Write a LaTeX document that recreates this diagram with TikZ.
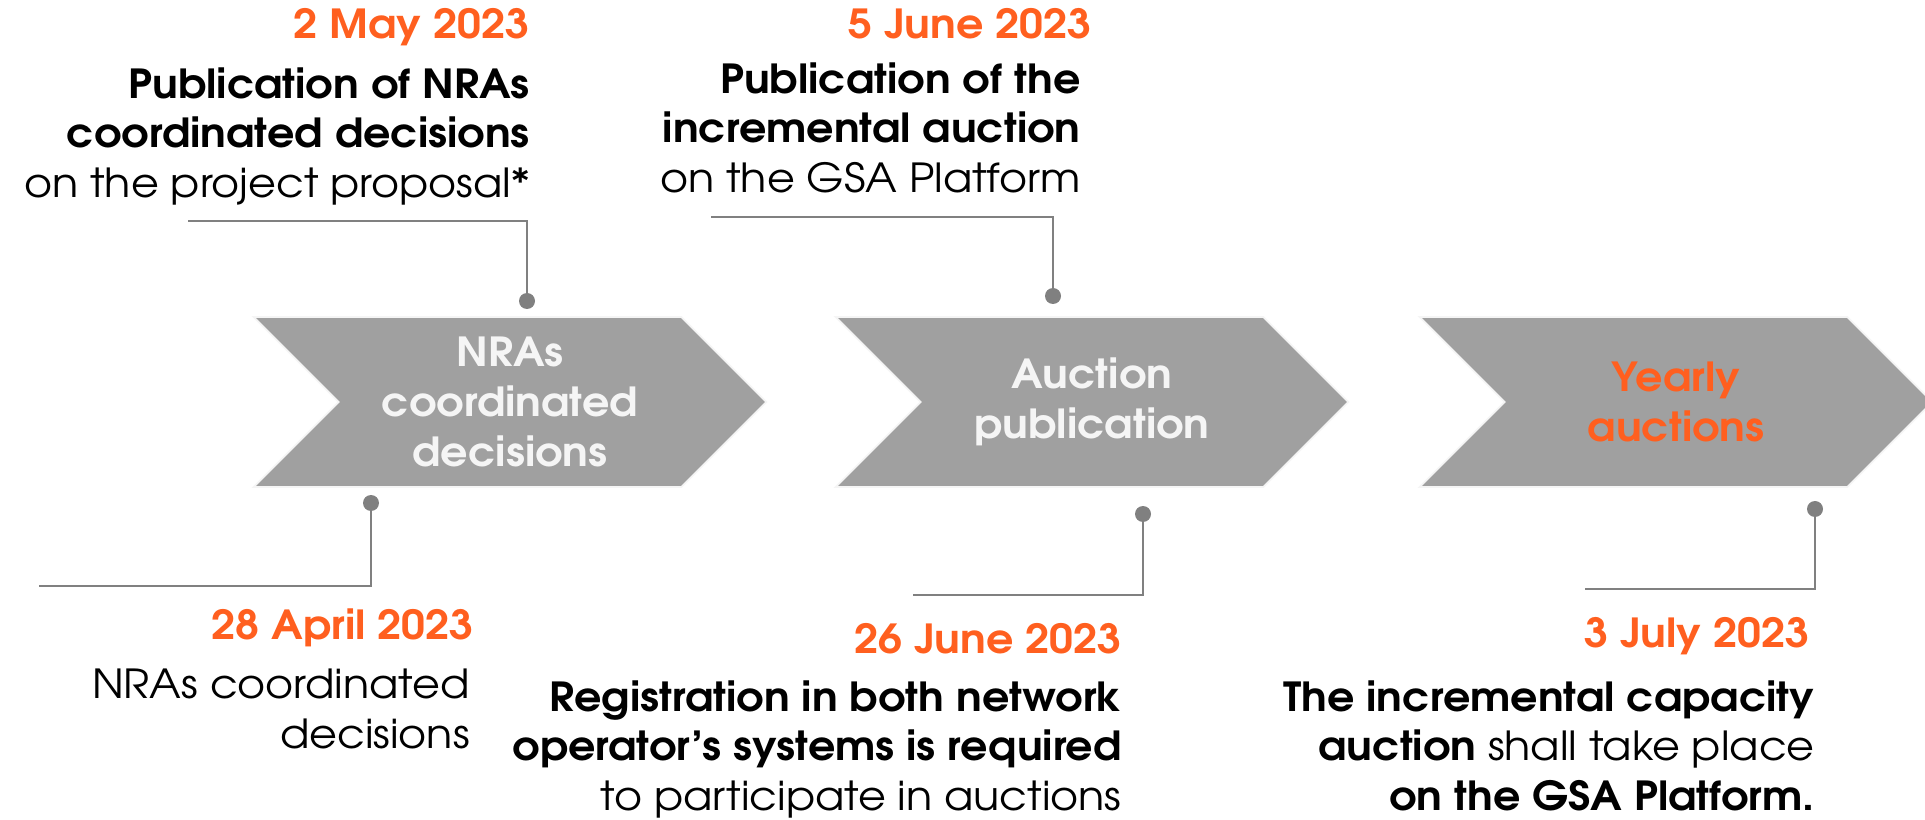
\documentclass[tikz,border=0pt]{standalone}
\usepackage{fontspec}
\setmainfont{texgyreadventor}[Extension=.otf,UprightFont=*-regular,BoldFont=*-bold,FakeStretch=1.07]
\usetikzlibrary{shapes.symbols,positioning}
\definecolor{accent}{RGB}{255,95,31}
\definecolor{arrowgray}{RGB}{160,160,160}
\definecolor{linegray}{RGB}{128,128,128}

\begin{document}
\begin{tikzpicture}[x=0.02cm,y=0.02cm,
  chev/.style={signal,signal from=west,signal to=east,signal pointer angle=90,
    fill=arrowgray,draw=gray!8,line width=1pt,minimum width=10.26cm,minimum height=3.4cm,
    text=white!96!black,font=\bfseries\fontsize{22.8}{28.4}\selectfont,align=center,inner sep=0pt},
  date/.style={text=accent,font=\bfseries\fontsize{22.8}{28.4}\selectfont,inner sep=0pt,anchor=base east},
  desc/.style={font=\fontsize{22.8}{28.4}\selectfont,align=right,inner sep=0pt},
  dot/.style={circle,fill=linegray,inner sep=0pt,minimum size=0.32cm},
  link/.style={draw=linegray,line width=1.25pt}]
  \useasboundingbox (0,0) rectangle (1925,819);

  % chevrons
  \node[chev] (nra) at (510,417) {NRAs\\coordinated\\decisions};
  \node[chev] (pub) at (1092,417) {Auction\\publication};
  \node[chev,text=accent] (year) at (1676,417) {Yearly\\auctions};

  % dates above
  \node[date] (dA) at (530,780) {2 May 2023};
  \node[desc,below=0.56cm of dA.base east,anchor=north east] (tA)
    {\textbf{Publication of NRAs}\\\textbf{coordinated decisions}\\on the project proposal*};
  \node[date] (dC) at (1092,780) {5 June 2023};
  \node[desc,below=0.46cm of dC.base east,anchor=north east,xshift=-0.22cm] (tC)
    {\textbf{Publication of the}\\\textbf{incremental auction}\\on the GSA Platform};

  % dates below
  \node[date] (dB) at (474,179) {28 April 2023};
  \node[desc,below=0.58cm of dB.base east,anchor=north east,xshift=-0.08cm] (tB)
    {NRAs coordinated\\decisions};
  \node[date] (dD) at (1122,166) {26 June 2023};
  \node[desc,below=0.54cm of dD.base east,anchor=north east] (tD)
    {\textbf{Registration in both network}\\\textbf{operator’s systems is required}\\to participate in auctions};
  \node[date] (dE) at (1810,172) {3 July 2023};
  \node[desc,below=0.66cm of dE.base east,anchor=north east,xshift=0.1cm] (tE)
    {\textbf{The incremental capacity}\\\textbf{auction} shall take place\\\textbf{on the GSA Platform.}};

  % connectors
  \node[dot] (pA) at (527,518) {};
  \coordinate (kA) at (527,598); \coordinate (eA) at (188,598);
  \draw[link] (pA) -- (kA) -- (eA);
  \node[dot] (pB) at (371,316) {};
  \coordinate (kB) at (371,233); \coordinate (eB) at (39,233);
  \draw[link] (pB) -- (kB) -- (eB);
  \node[dot] (pC) at (1053,523) {};
  \coordinate (kC) at (1053,602); \coordinate (eC) at (711,602);
  \draw[link] (pC) -- (kC) -- (eC);
  \node[dot] (pD) at (1143,305) {};
  \coordinate (kD) at (1143,224); \coordinate (eD) at (913,224);
  \draw[link] (pD) -- (kD) -- (eD);
  \node[dot] (pE) at (1815,310) {};
  \coordinate (kE) at (1815,230); \coordinate (eE) at (1585,230);
  \draw[link] (pE) -- (kE) -- (eE);
\end{tikzpicture}
\end{document}
